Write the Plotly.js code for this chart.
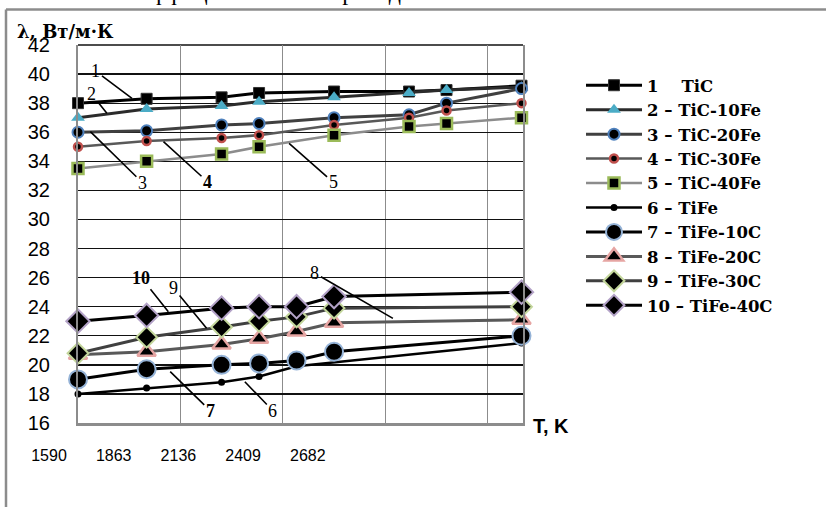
<!DOCTYPE html>
<html>
<head>
<meta charset="utf-8">
<script src="https://cdn.plot.ly/plotly-3.0.1.min.js"></script>
<style>html,body{margin:0;padding:0;background:#fff;}#chart{width:826px;height:507px;}</style>
</head>
<body>
<div id="chart"></div>
<script>
// ---- data ----
const tTiC = [1590, 1773, 1973, 2073, 2273, 2473, 2573, 2773];
const tTiFe = [1590, 1773, 1973, 2073, 2173, 2273, 2773];
const tTiFeOnly = [1590, 1773, 1973, 2073, 2173, 2773];

const s1 = [38.0, 38.3, 38.4, 38.7, 38.8, 38.8, 38.9, 39.2];
const s2 = [37.0, 37.6, 37.8, 38.1, 38.4, 38.7, 38.9, 39.1];
const s3 = [36.0, 36.1, 36.5, 36.6, 37.0, 37.2, 38.0, 39.0];
const s4 = [35.0, 35.4, 35.6, 35.8, 36.5, 37.0, 37.5, 38.0];
const s5 = [33.5, 34.0, 34.5, 35.0, 35.8, 36.4, 36.6, 37.0];
const s6 = [18.0, 18.4, 18.8, 19.2, 19.9, 21.5];
const s7 = [19.0, 19.7, 20.0, 20.1, 20.3, 20.9, 22.0];
const s8 = [20.7, 20.9, 21.4, 21.8, 22.3, 22.9, 23.1];
const s9 = [20.8, 21.9, 22.6, 23.0, 23.3, 23.9, 24.0];
const s10 = [23.0, 23.4, 23.9, 24.0, 24.0, 24.7, 25.0];

const seriesNames = [
  "1\u00a0\u00a0\u00a0\u00a0TiC",
  "2 \u2013 TiC-10Fe",
  "3 \u2013 TiC-20Fe",
  "4 \u2013 TiC-30Fe",
  "5 \u2013 TiC-40Fe",
  "6 \u2013 TiFe",
  "7 \u2013 TiFe-10C",
  "8 \u2013 TiFe-20C",
  "9 \u2013 TiFe-30C",
  "10 \u2013 TiFe-40C"
];
const xTickVals = [1590, 1863, 2136, 2409, 2682];
const xTickText = ["1590", "1863", "2136", "2409", "2682"];
const yTickVals = [16, 18, 20, 22, 24, 26, 28, 30, 32, 34, 36, 38, 40, 42];

// curve number labels: [label, tip x, tip y, dx, dy, bold]
const curveLabels = [
  ["1", 1734, 38.33, -36, -27, false],
  ["2", 1667, 37.3, -15, -19, false],
  ["3", 1623, 36.04, 52, 51, false],
  ["4", 1818, 35.35, 44, 40, true],
  ["5", 2153, 35.24, 44, 39, false],
  ["6", 2035, 18.84, 28, 29, false],
  ["7", 1836, 19.53, 40, 39, true],
  ["8", 2430, 23.2, -78, -45, false],
  ["9", 1933, 22.52, -33, -40, false],
  ["10", 1831, 23.66, -27, -34, true]
];

// ---- styles ----
const styles = [
  {x: tTiC, y: s1, lc: "#000000", lw: 3, sym: "square", ms: 11, mc: "#000000", mlc: "#333333", mlw: 1},
  {x: tTiC, y: s2, lc: "#2b2b2b", lw: 3, sym: "triangle-up", ms: 12, mc: "#4BACC6", mlc: "#4BACC6", mlw: 0},
  {x: tTiC, y: s3, lc: "#404040", lw: 3, sym: "circle", ms: 11, mc: "#000000", mlc: "#4F81BD", mlw: 2},
  {x: tTiC, y: s4, lc: "#595959", lw: 2.5, sym: "circle", ms: 8, mc: "#000000", mlc: "#C0504D", mlw: 2.5},
  {x: tTiC, y: s5, lc: "#8c8c8c", lw: 2.5, sym: "square", ms: 11, mc: "#000000", mlc: "#9BBB59", mlw: 2.5},
  {x: tTiFeOnly, y: s6, lc: "#000000", lw: 2.5, sym: "circle", ms: 7, mc: "#000000", mlc: "#000000", mlw: 0},
  {x: tTiFe, y: s7, lc: "#000000", lw: 3, sym: "circle", ms: 18, mc: "#000000", mlc: "#95B3D7", mlw: 2},
  {x: tTiFe, y: s8, lc: "#595959", lw: 3, sym: "triangle-up", ms: 16, mc: "#000000", mlc: "#E6A5A3", mlw: 2.5},
  {x: tTiFe, y: s9, lc: "#404040", lw: 3, sym: "diamond", ms: 16, mc: "#000000", mlc: "#C3D69B", mlw: 2},
  {x: tTiFe, y: s10, lc: "#000000", lw: 3, sym: "diamond", ms: 18, mc: "#000000", mlc: "#B3A2C7", mlw: 2}
];

// helper trace first so the data subplot is drawn above it
const traces = [{type: "scatter", mode: "markers", x: [xTickVals[0]], y: [null],
  xaxis: "x2", yaxis: "y2", showlegend: false, hoverinfo: "skip", marker: {opacity: 0}}];
styles.forEach((s, i) => traces.push({
  type: "scatter", mode: "lines+markers", cliponaxis: false,
  x: s.x, y: s.y, name: seriesNames[i],
  line: {color: s.lc, width: s.lw},
  marker: {symbol: s.sym, size: s.ms, color: s.mc, line: {color: s.mlc, width: s.mlw}},
  xaxis: "x", yaxis: "y"
}));

// pixel helpers for paper coords (margin l=20, paper width 796; plot y 45..423)
const px = p => (p - 20) / 796;
const py = p => (423 - p) / 378;

const annotations = curveLabels.map(c => ({
  x: c[1], y: c[2], xref: "x", yref: "y",
  text: c[5] ? "<b>" + c[0] + "</b>" : c[0],
  showarrow: true, arrowhead: 0, arrowwidth: 1.6, arrowcolor: "#000",
  ax: c[3], ay: c[4], standoff: 0, startstandoff: 0,
  font: {family: "Liberation Serif", size: 18, color: "#000"}
}));
annotations.push({
  xref: "paper", yref: "paper", x: px(15), y: py(32), xanchor: "left", yanchor: "middle",
  text: "<b>λ, Вт/м·К</b>", showarrow: false,
  font: {family: "DejaVu Serif", size: 18, color: "#000"}
});
annotations.push({
  xref: "paper", yref: "paper", x: px(531), y: py(426), xanchor: "left", yanchor: "middle",
  text: "<b>T, K</b>", showarrow: false,
  font: {family: "Liberation Sans", size: 20, color: "#000"}
});
annotations.push({
  xref: "paper", yref: "paper", x: px(2), y: py(-8), xanchor: "left", yanchor: "middle",
  text: "изменения коэффициента теплопроводности.", showarrow: false,
  font: {family: "Liberation Serif", size: 24, color: "#000"}
});

const layout = {
  width: 826, height: 507,
  margin: {l: 20, r: 10, t: 45, b: 84},
  paper_bgcolor: "#ffffff", plot_bgcolor: "rgba(0,0,0,0)",
  showlegend: true,
  legend: {
    x: px(581), y: py(68), xanchor: "left", yanchor: "top",
    font: {family: "DejaVu Serif", size: 16.5, color: "#000", weight: "bold"},
    itemwidth: 56, tracegroupgap: 0, bgcolor: "rgba(0,0,0,0)"
  },
  xaxis: {
    domain: [px(78), px(523)], range: [1590, 2777],
    tickmode: "linear", tick0: 1590, dtick: 273,
    showticklabels: false, ticks: "",
    showgrid: true, gridcolor: "#8c8c8c", gridwidth: 1,
    showline: true, linecolor: "#8c8c8c", linewidth: 2.5, mirror: false,
    zeroline: false, anchor: "y"
  },
  yaxis: {
    domain: [0, 1], range: [16, 42],
    tickmode: "array", tickvals: yTickVals,
    ticks: "", ticklabelstandoff: 22,
    tickfont: {family: "Liberation Sans", size: 20, color: "#000"},
    showgrid: true, gridcolor: "#111111", gridwidth: 1.3,
    showline: true, linecolor: "#8c8c8c", linewidth: 2, mirror: true,
    zeroline: false, anchor: "x"
  },
  xaxis2: {
    domain: [px(49), px(307.8)], range: [1590, 2682],
    tickmode: "array", tickvals: xTickVals, ticktext: xTickText,
    showgrid: false, showline: false, zeroline: false, ticks: "",
    anchor: "y2", side: "bottom", ticklabelstandoff: 21,
    tickfont: {family: "Liberation Sans", size: 16, color: "#000"}
  },
  yaxis2: {
    domain: [0, 1], range: [16, 42], anchor: "x2",
    visible: false, showgrid: false, zeroline: false, showline: false, showticklabels: false
  },
  annotations: annotations,
  shapes: [
    {type: "line", xref: "paper", yref: "paper", x0: px(6), x1: px(830), y0: py(9.5), y1: py(9.5),
     line: {color: "#8c8c8c", width: 2.5}},
    {type: "line", xref: "paper", yref: "paper", x0: px(6), x1: px(6), y0: py(9.5), y1: py(510),
     line: {color: "#8c8c8c", width: 2.5}},
    {type: "line", xref: "paper", yref: "paper", x0: px(78), x1: px(523), y0: py(45), y1: py(45),
     line: {color: "#111111", width: 1.6}, layer: "below"}
  ]
};

Plotly.newPlot("chart", traces, layout, {displayModeBar: false, staticPlot: true});
</script>
</body>
</html>
